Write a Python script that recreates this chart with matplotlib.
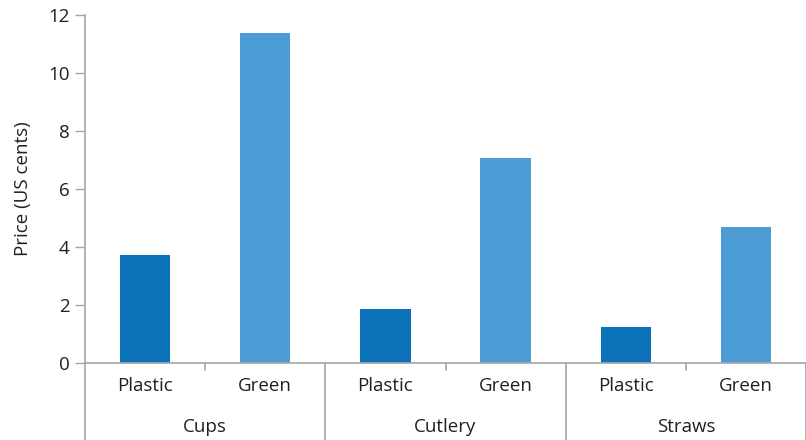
import matplotlib

matplotlib.use("Agg")

import matplotlib.pyplot as plt  # noqa: E402
import matplotlib.transforms as mtransforms  # noqa: E402

# data
groups = ["Cups", "Cutlery", "Straws"]
kinds = ["Plastic", "Green"]
plastic = [3.72, 1.86, 1.24]
green = [11.38, 7.07, 4.69]
yticks = [0, 2, 4, 6, 8, 10, 12]

DARK = "#0b71b9"
LIGHT = "#4c9dd6"
GREY = "#a6a6a6"
TEXT = "#231f20"
FS = 13.5

plt.rcParams["font.family"] = ["Open Sans", "DejaVu Sans"]

W, H = 806, 440
fig = plt.figure(figsize=(W / 100, H / 100), dpi=100)
ax = fig.add_axes([85 / W, (H - 363) / H, (W - 85) / W, (363 - 15) / H])

xs_p = [2 * i + 0.5 for i in range(len(groups))]
xs_g = [2 * i + 1.5 for i in range(len(groups))]
ax.bar(xs_p, plastic, width=0.42, color=DARK)
ax.bar(xs_g, green, width=0.42, color=LIGHT)

ax.set_xlim(0, 2 * len(groups))
ax.set_ylim(0, 12)
ax.set_yticks(yticks)
ax.set_yticklabels([str(t) for t in yticks], fontsize=FS, color=TEXT)
ax.tick_params(axis="y", length=7, color=GREY, width=1, pad=4)
ax.set_xticks([])
ax.set_ylabel("Price (US cents)", fontsize=FS, color=TEXT, labelpad=12)

for side in ["top", "right"]:
    ax.spines[side].set_visible(False)
ax.spines["left"].set_color(GREY)
ax.spines["bottom"].set_color(GREY)
ax.spines["left"].set_linewidth(1.2)
ax.spines["bottom"].set_linewidth(1.2)

# category axis drawn below the plot area
trans = mtransforms.blended_transform_factory(ax.transData, fig.transFigure)
y0 = (H - 363) / H
y_end = 0
y_small = (H - 370) / H
for i in range(len(groups) + 1):
    ax.plot([2 * i, 2 * i], [y0, y_end], transform=trans, color=GREY,
            lw=1.2, clip_on=False)
for i in range(len(groups)):
    ax.plot([2 * i + 1, 2 * i + 1], [y0, y_small], transform=trans,
            color=GREY, lw=1.2, clip_on=False)
    for j, k in enumerate(kinds):
        ax.text(2 * i + j + 0.5, (H - 386) / H, k, transform=trans,
                ha="center", va="center", fontsize=FS, color=TEXT)
    ax.text(2 * i + 1, (H - 427) / H, groups[i], transform=trans,
            ha="center", va="center", fontsize=FS, color=TEXT)

fig.savefig("out.png", dpi=100)
